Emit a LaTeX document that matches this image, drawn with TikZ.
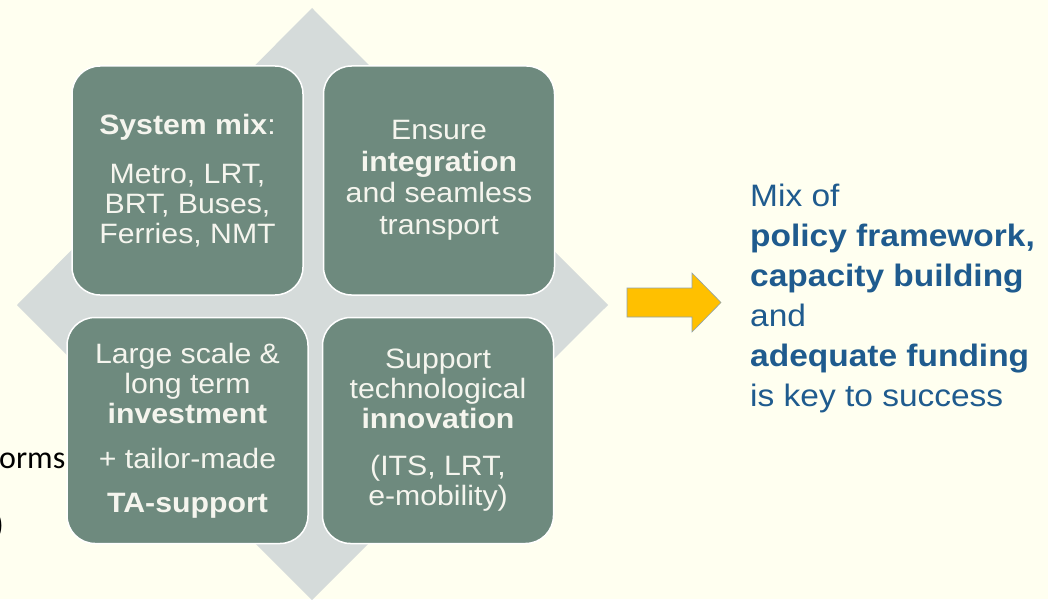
\documentclass[tikz,border=0pt]{standalone}
\usepackage{fontspec}
\setmainfont{Liberation Sans}
\newfontfamily\slidefont[FakeStretch=1.08]{Liberation Sans}
\newfontfamily\notefont{Carlito}
\usetikzlibrary{positioning}
\definecolor{Paper}{HTML}{FFFFF0}
\definecolor{Sage}{HTML}{6E8A7E}
\definecolor{Haze}{HTML}{D5DBDA}
\definecolor{Chalk}{HTML}{F5F5EE}
\definecolor{Amber}{HTML}{FFC000}
\definecolor{ArrowEdge}{HTML}{8FA3B0}
\definecolor{Ink}{HTML}{1F5B8E}

\begin{document}
\begin{tikzpicture}[x=1pt,y=-1pt,
    node distance=19pt,
    box/.style={fill=Sage,draw=white,line width=1.5pt,rounded corners=28pt,
                minimum width=231pt,minimum height=229pt,inner sep=0pt,
                align=center,text=Chalk,font=\slidefont\fontsize{28}{30}\selectfont},
    takeaway/.style={inner sep=0pt,align=left,text=Ink,
                font=\slidefont\fontsize{31}{40}\selectfont},
    stray/.style={inner sep=0pt,text=black,font=\notefont\fontsize{32}{38}\selectfont}
  ]
    \fill[Paper] (0,0) rectangle (1048,599);
    \useasboundingbox (0,0) rectangle (1048,599);

    \node[stray,anchor=base west] (cut) at (-1,468) {orms};
    \node[stray,anchor=base east] (paren) at (4,535) {)};

    \fill[Haze] (312,8) -- (608,305) -- (312,600) -- (17,305) -- cycle;

    \node[box] (mix) at (187.5,180.5) {\textbf{System mix}:\\[19pt] Metro, LRT,\\ BRT, Buses,\\ Ferries, NMT};
    \node[box,right=of mix,font=\slidefont\fontsize{28}{31.5}\selectfont] (link)
      {Ensure\\ \textbf{integration}\\ and seamless\\ transport};
    \node[box,minimum width=241pt,minimum height=226pt] (fund) at (187.5,430.5)
      {Large scale \&\\ long term\\ \textbf{investment}\\[15pt] + tailor-made\\[14pt] \textbf{TA-support}};
    \node[box,minimum height=226pt,right=13pt of fund] (tech)
      {Support\\ technological\\ \textbf{innovation}\\[17pt] (ITS, LRT,\\ e-mobility)};

    \fill[Amber,draw=ArrowEdge,line width=0.6pt] (627,288) -- (692,288) -- (692,273) -- (721,302.5)
      -- (692,332) -- (692,317) -- (627,317) -- cycle;

    \node[takeaway,anchor=north west] (key) at (750,184)
      {Mix of\\ \textbf{policy framework,}\\ \textbf{capacity building}\\ and\\ \textbf{adequate funding}\\ is key to success};
  \end{tikzpicture}
\end{document}
